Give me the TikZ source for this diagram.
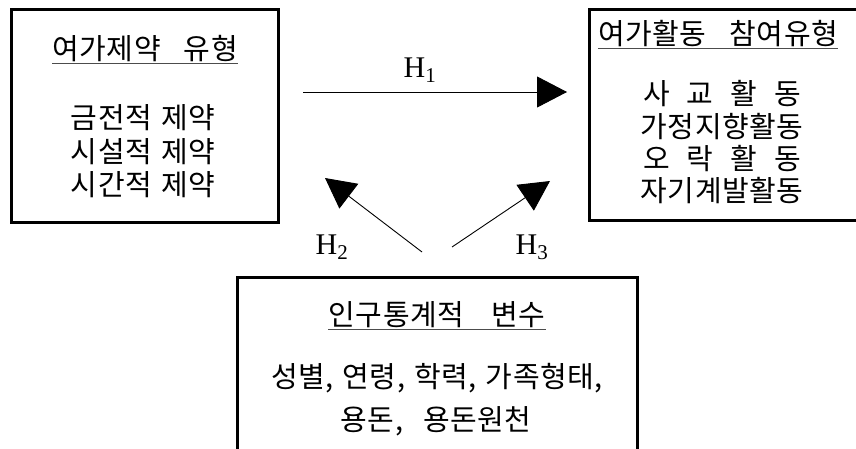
\documentclass[tikz,border=0pt]{standalone}
\usepackage{fontspec}
\newfontfamily\kr[LetterSpace=2]{Noto Sans CJK KR}
\newfontfamily\hser{Liberation Serif}
\usetikzlibrary{arrows.meta}
\tikzset{
  box/.style={draw=black, line width=3pt, inner sep=0pt},
  kt/.style={inner sep=0pt, anchor=base, font=\kr\fontsize{29}{33}\selectfont},
  hl/.style={inner sep=0pt, anchor=base, font=\hser\fontsize{30}{34}\selectfont},
  uline/.style={draw=black!70, line width=1pt},
  hyp/.style={draw=black, line width=0.9pt, -{Triangle[length=30pt,width=31pt]}}
}
\newcommand\gp[1]{\hspace{#1pt}}
\begin{document}
\begin{tikzpicture}[x=1pt,y=-1pt]
\useasboundingbox (0,0) rectangle (856,448);
\clip (0,0) rectangle (856,448);
% boxes
\node[box, minimum width=267pt, minimum height=213pt] (lbox) at (145,116) {};
\node[box, minimum width=281pt, minimum height=211pt] (rbox) at (730,115) {};
\node[box, minimum width=400pt, minimum height=193pt] (bbox) at (437.5,374) {};
% left box text
\node[kt] (ltitle) at (145,59) {여가제약\gp{23}유형};
\draw[uline] ([yshift=-4.5pt]ltitle.base west) -- ([yshift=-4.5pt]ltitle.base east);
\node[kt] (l1) at (143,128.5) {금전적\gp{9}제약};
\node[kt] (l2) at (143,162.5) {시설적\gp{9}제약};
\node[kt] (l3) at (143,195.5) {시간적\gp{9}제약};
% right box text
\node[kt] (rtitle) at (718,44) {여가활동\gp{23}참여유형};
\draw[uline] ([yshift=-4pt]rtitle.base west) -- ([yshift=-4pt]rtitle.base east);
\node[kt] (r1) at (722,104) {사\gp{17}교\gp{17}활\gp{17}동};
\node[kt] (r2) at (722,137) {가정지향활동};
\node[kt] (r3) at (722,169) {오\gp{17}락\gp{17}활\gp{17}동};
\node[kt] (r4) at (722,201) {자기계발활동};
% bottom box text
\node[kt] (btitle) at (437,325.5) {인구통계적\gp{27}변수};
\draw[uline] ([yshift=-4pt]btitle.base west) -- ([yshift=-4pt]btitle.base east);
\node[kt] (b1) at (437,387.5) {성별,\gp{9}연령,\gp{9}학력,\gp{9}가족형태,};
\node[kt] (b2) at (436,430.5) {용돈,\gp{20}용돈원천};
% hypotheses
\coordinate (h1s) at (303,92);
\coordinate (h1e) at (567,92);
\coordinate (h2s) at (422,252);
\coordinate (h2e) at (325,178);
\coordinate (h3s) at (452,247);
\coordinate (h3e) at (550,181);
\draw[hyp] (h1s) -- (h1e);
\draw[hyp] (h2s) -- (h2e);
\draw[hyp] (h3s) -- (h3e);
\node[hl] (H1) at (420,77) {H\textsubscript{1}};
\node[hl] (H2) at (332,254) {H\textsubscript{2}};
\node[hl] (H3) at (532,254) {H\textsubscript{3}};
\end{tikzpicture}
\end{document}
